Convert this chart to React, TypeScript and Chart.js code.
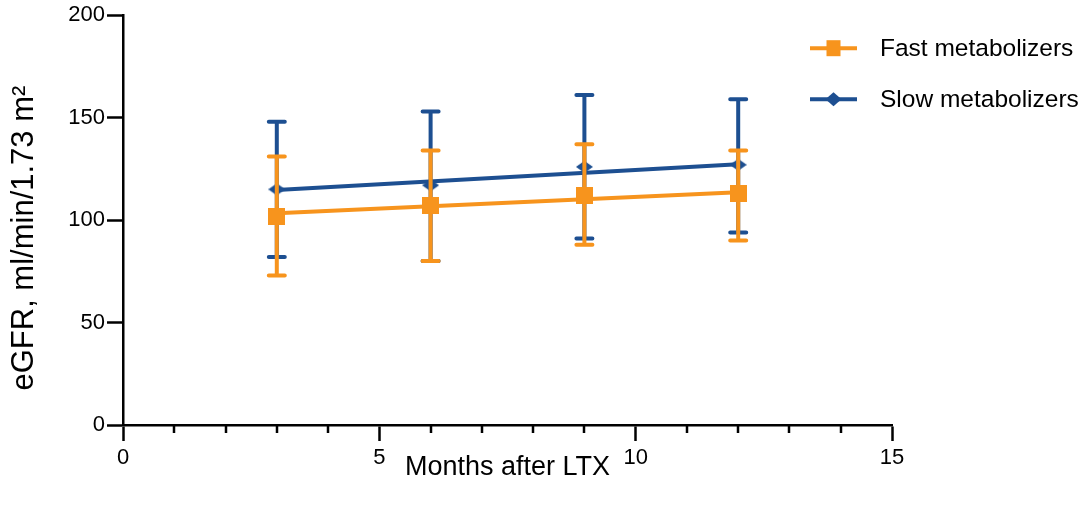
import React, { useEffect, useRef } from 'react';
import { Chart, registerables, Plugin } from 'chart.js';

Chart.register(...registerables);

// values
const months = [3, 6, 9, 12];
const fastMean = [102, 107, 112, 113];
const fastUpper = [131, 134, 137, 134];
const fastLower = [73, 80, 88, 90];
const slowMean = [115, 117, 126, 127];
const slowUpper = [148, 153, 161, 159];
const slowLower = [82, 80, 91, 94];
const trendMonths = [3, 12];
const fastTrend = [103.4, 113.6];
const slowTrend = [114.7, 127.2];
const xTickValues = [0, 5, 10, 15];
const yTickValues = [0, 50, 100, 150, 200];
const seriesNames = ['Fast metabolizers', 'Slow metabolizers'];
const xTitle = 'Months after LTX';
const yTitle = 'eGFR, ml/min/1.73 m²';

const ORANGE = '#F7941D';
const BLUE = '#1D4F91';
const FONT = "'Liberation Sans', Arial, sans-serif";

function makeDiamond(w: number, h: number, color: string) {
  const c = document.createElement('canvas');
  c.width = w;
  c.height = h;
  const ctx = c.getContext('2d')!;
  ctx.fillStyle = color;
  ctx.beginPath();
  ctx.moveTo(w / 2, 0);
  ctx.lineTo(w, h / 2);
  ctx.lineTo(w / 2, h);
  ctx.lineTo(0, h / 2);
  ctx.closePath();
  ctx.fill();
  return c;
}

function makeSquare(s: number, color: string) {
  const c = document.createElement('canvas');
  c.width = s;
  c.height = s;
  const ctx = c.getContext('2d')!;
  ctx.fillStyle = color;
  ctx.fillRect(0, 0, s, s);
  return c;
}

const errorBars: Plugin = {
  id: 'errorBars',
  beforeDatasetDraw(chart, args) {
    const ds = chart.data.datasets[args.index] as any;
    if (!ds.errHigh) return;
    const { ctx } = chart;
    const x = chart.scales.x;
    const y = chart.scales.y;
    ctx.save();
    ctx.strokeStyle = ds.borderColor;
    ctx.lineWidth = 4;
    ctx.lineCap = 'round';
    ds.data.forEach((p: { x: number }, i: number) => {
      const px = x.getPixelForValue(p.x);
      const top = y.getPixelForValue(ds.errHigh[i]);
      const bot = y.getPixelForValue(ds.errLow[i]);
      ctx.beginPath();
      ctx.moveTo(px, top);
      ctx.lineTo(px, bot);
      ctx.moveTo(px - 8, top);
      ctx.lineTo(px + 8, top);
      ctx.moveTo(px - 8, bot);
      ctx.lineTo(px + 8, bot);
      ctx.stroke();
    });
    ctx.restore();
  },
};

const extras: Plugin = {
  id: 'extras',
  afterDraw(chart) {
    const { ctx, chartArea } = chart;
    const x = chart.scales.x;
    ctx.save();
    // minor ticks on x
    ctx.strokeStyle = '#000';
    ctx.lineWidth = 2.5;
    for (let v = x.min; v <= x.max; v++) {
      if (xTickValues.includes(v)) continue;
      const px = Math.round(x.getPixelForValue(v));
      ctx.beginPath();
      ctx.moveTo(px, chartArea.bottom);
      ctx.lineTo(px, chartArea.bottom + 8);
      ctx.stroke();
    }
    // y title
    ctx.save();
    ctx.translate(24, (chartArea.top + chartArea.bottom) / 2 + 18);
    ctx.rotate(-Math.PI / 2);
    ctx.fillStyle = '#000';
    ctx.font = `31px ${FONT}`;
    ctx.textAlign = 'center';
    ctx.textBaseline = 'middle';
    ctx.fillText(yTitle, 0, 0);
    ctx.restore();
    // legend
    const colors = [ORANGE, BLUE];
    seriesNames.forEach((name, i) => {
      const ly = chartArea.top + 33 + i * 51;
      const x0 = chartArea.right - 82;
      const x1 = chartArea.right - 35;
      ctx.strokeStyle = colors[i];
      ctx.lineWidth = 4;
      ctx.beginPath();
      ctx.moveTo(x0, ly);
      ctx.lineTo(x1, ly);
      ctx.stroke();
      ctx.fillStyle = colors[i];
      const cx = (x0 + x1) / 2;
      if (i === 0) {
        ctx.fillRect(cx - 7, ly - 8, 14, 16);
      } else {
        ctx.beginPath();
        ctx.moveTo(cx, ly - 7);
        ctx.lineTo(cx + 8, ly);
        ctx.lineTo(cx, ly + 7);
        ctx.lineTo(cx - 8, ly);
        ctx.closePath();
        ctx.fill();
      }
      ctx.fillStyle = '#000';
      ctx.font = `24.5px ${FONT}`;
      ctx.textAlign = 'left';
      ctx.textBaseline = 'middle';
      ctx.fillText(name, chartArea.right - 12, ly + 1);
    });
    ctx.restore();
  },
};

const App = () => {
  const chartRef = useRef<HTMLCanvasElement | null>(null);
  const chartInstance = useRef<Chart | null>(null);

  useEffect(() => {
    document.body.style.margin = '0';
    if (!chartRef.current) return;
    if (chartInstance.current) chartInstance.current.destroy();
    const ctx = chartRef.current.getContext('2d');
    if (!ctx) return;

    const tickFont = { family: FONT, size: 22 };
    const axisGrid = {
      drawOnChartArea: false,
      tickLength: 16,
      tickWidth: 2.5,
      tickColor: '#000',
    };

    chartInstance.current = new Chart(ctx, {
      type: 'line',
      data: {
        datasets: [
          {
            label: seriesNames[0],
            data: months.map((m, i) => ({ x: m, y: fastMean[i] })),
            errHigh: fastUpper,
            errLow: fastLower,
            borderColor: ORANGE,
            backgroundColor: ORANGE,
            showLine: false,
            pointStyle: makeSquare(17, ORANGE),
          } as any,
          {
            label: seriesNames[0] + ' trend',
            data: trendMonths.map((m, i) => ({ x: m, y: fastTrend[i] })),
            borderColor: ORANGE,
            borderWidth: 4,
            pointRadius: 0,
          },
          {
            label: seriesNames[1],
            data: months.map((m, i) => ({ x: m, y: slowMean[i] })),
            errHigh: slowUpper,
            errLow: slowLower,
            borderColor: BLUE,
            backgroundColor: BLUE,
            showLine: false,
            pointStyle: makeDiamond(17, 12, BLUE),
          } as any,
          {
            label: seriesNames[1] + ' trend',
            data: trendMonths.map((m, i) => ({ x: m, y: slowTrend[i] })),
            borderColor: BLUE,
            borderWidth: 4,
            pointRadius: 0,
          },
        ],
      },
      options: {
        animation: false,
        responsive: false,
        layout: { padding: { top: 13, right: 192, left: 0, bottom: 0 } },
        plugins: {
          legend: { display: false },
          tooltip: { enabled: false },
        },
        scales: {
          x: {
            type: 'linear',
            min: 0,
            max: 15,
            afterBuildTicks: (s: any) => {
              s.ticks = xTickValues.map((v) => ({ value: v }));
            },
            ticks: { font: tickFont, color: '#000', padding: 4, maxRotation: 0 },
            grid: axisGrid,
            border: { color: '#000', width: 2.5 },
            title: {
              display: true,
              text: xTitle,
              color: '#000',
              font: { family: FONT, size: 27 },
              padding: { top: 0, bottom: 32 },
            },
            afterFit: (s: any) => {
              s.height = 91;
            },
          },
          y: {
            type: 'linear',
            min: 0,
            max: 200,
            afterBuildTicks: (s: any) => {
              s.ticks = yTickValues.map((v) => ({ value: v }));
            },
            ticks: { font: tickFont, color: '#000', padding: 2 },
            grid: axisGrid,
            border: { color: '#000', width: 2.5 },
            afterFit: (s: any) => {
              s.width = 123;
            },
          },
        },
      },
      plugins: [errorBars, extras],
    });

    return () => {
      if (chartInstance.current) {
        chartInstance.current.destroy();
        chartInstance.current = null;
      }
    };
  }, []);

  return (
    <div style={{ position: 'relative', width: '1084px', height: '516px', background: '#fff' }}>
      <canvas ref={chartRef} width={1084} height={516} />
    </div>
  );
};

export default App;
